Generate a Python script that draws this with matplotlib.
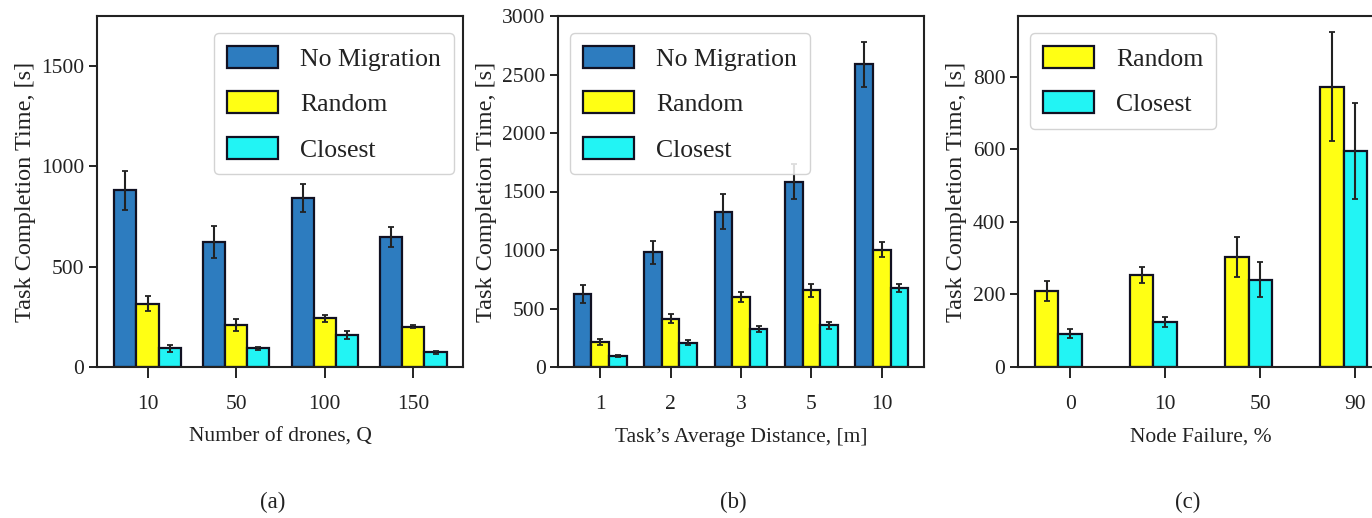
import matplotlib
matplotlib.use("Agg")
import matplotlib.pyplot as plt
import numpy as np

plt.rcParams['font.family'] = ['Liberation Serif', 'DejaVu Serif']
plt.rcParams['mathtext.fontset'] = 'stix'

# ---------------- data ----------------
drones_labels = ["10", "50", "100", "150"]
a_nomig = [880, 625, 842, 648]
a_nomig_err = [95, 80, 70, 50]
a_random = [316, 210, 243, 200]
a_random_err = [37, 30, 17, 8]
a_closest = [93, 94, 160, 73]
a_closest_err = [17, 8, 20, 6]

dist_labels = ["1", "2", "3", "5", "10"]
b_nomig = [628, 979, 1326, 1583, 2587]
b_nomig_err = [77, 100, 150, 148, 195]
b_random = [214, 414, 599, 656, 1004]
b_random_err = [25, 40, 40, 55, 65]
b_closest = [94, 208, 322, 357, 676]
b_closest_err = [8, 20, 25, 30, 35]

fail_labels = ["0", "10", "50", "90"]
c_random = [209, 253, 303, 772]
c_random_err = [28, 22, 54, 150]
c_closest = [92, 124, 241, 595]
c_closest_err = [12, 14, 47, 133]

BLUE = "#2d7cbf"
YELLOW = "#ffff14"
CYAN = "#22f4f4"
EDGE = "#111122"

W = 0.25
fig = plt.figure(figsize=(13.72, 5.18), dpi=100)

ax_h = 351 / 518
ax_b = 1 - 367 / 518
ax_w = 366 / 1372
axa = fig.add_axes([97 / 1372, ax_b, ax_w, ax_h])
axb = fig.add_axes([558 / 1372, ax_b, ax_w, ax_h])
axc = fig.add_axes([1018 / 1372, ax_b, ax_w, ax_h])

ekw = dict(ecolor="#222222", elinewidth=1.5, capsize=2.5, capthick=1.3)
bkw = dict(edgecolor=EDGE, linewidth=1.6)

TICK_FS = 15.5
LAB_FS = 15.5
YLAB_FS = 17.5
LEG_FS = 18.5


def style(ax):
    for s in ax.spines.values():
        s.set_linewidth(1.5)
        s.set_color("#222222")
    ax.tick_params(axis="both", direction="out", width=1.4,
                   labelsize=TICK_FS, colors="#222222", top=False, right=False)
    ax.tick_params(axis="x", length=8, pad=12)
    ax.tick_params(axis="y", length=6, pad=3)
    ax.set_ylabel("Task Completion Time, [s]", fontsize=YLAB_FS, color="#222222")
    ax.xaxis.labelpad = 10


def legend(ax, loc, anchor):
    lg = ax.legend(loc=loc, bbox_to_anchor=anchor, borderaxespad=0,
                   fontsize=LEG_FS, handlelength=2.0, handleheight=0.95,
                   handletextpad=0.85, labelspacing=0.8, borderpad=0.5,
                   frameon=True, fancybox=True, framealpha=0.85)
    lg.get_frame().set_edgecolor("#cccccc")
    lg.get_frame().set_linewidth(1.0)
    for t in lg.get_texts():
        t.set_color("#222222")


# ---- (a)
x = np.arange(len(drones_labels))
axa.bar(x - W, a_nomig, W, yerr=a_nomig_err, color=BLUE, label="No Migration", error_kw=ekw, **bkw)
axa.bar(x, a_random, W, yerr=a_random_err, color=YELLOW, label="Random", error_kw=ekw, **bkw)
axa.bar(x + W, a_closest, W, yerr=a_closest_err, color=CYAN, label="Closest", error_kw=ekw, **bkw)
axa.set_xticks(x)
axa.set_xticklabels(drones_labels)
axa.set_xlim(-0.57, 3.56)
axa.set_ylim(0, 1750)
axa.set_yticks([0, 500, 1000, 1500])
axa.set_xlabel("Number of drones, Q", fontsize=LAB_FS, color="#222222")
style(axa)
legend(axa, "upper right", (0.975, 0.952))

# ---- (b)
x = np.arange(len(dist_labels))
axb.bar(x - W, b_nomig, W, yerr=b_nomig_err, color=BLUE, label="No Migration", error_kw=ekw, **bkw)
axb.bar(x, b_random, W, yerr=b_random_err, color=YELLOW, label="Random", error_kw=ekw, **bkw)
axb.bar(x + W, b_closest, W, yerr=b_closest_err, color=CYAN, label="Closest", error_kw=ekw, **bkw)
axb.set_xticks(x)
axb.set_xticklabels(dist_labels)
axb.set_xlim(-0.6, 4.6)
axb.set_ylim(0, 3000)
axb.set_yticks([0, 500, 1000, 1500, 2000, 2500, 3000])
axb.set_xlabel("Task\u2019s Average Distance, [m]", fontsize=LAB_FS, color="#222222")
style(axb)
legend(axb, "upper left", (0.033, 0.952))

# ---- (c)
x = np.arange(len(fail_labels))
axc.bar(x - W, c_random, W, yerr=c_random_err, color=YELLOW, label="Random", error_kw=ekw, **bkw)
axc.bar(x, c_closest, W, yerr=c_closest_err, color=CYAN, label="Closest", error_kw=ekw, **bkw)
axc.set_xticks(x)
axc.set_xticklabels(fail_labels)
axc.set_xlim(-0.55, 3.3)
axc.set_ylim(0, 967)
axc.set_yticks([0, 200, 400, 600, 800])
axc.set_xlabel("Node Failure, %", fontsize=LAB_FS, color="#222222")
style(axc)
legend(axc, "upper left", (0.033, 0.952))

for xc, lab in [(273, "(a)"), (733, "(b)"), (1188, "(c)")]:
    fig.text(xc / 1372, 1 - 502 / 518, lab, ha="center", va="center",
             fontsize=LAB_FS + 1, color="#222222")

fig.savefig("out.png", dpi=100)
